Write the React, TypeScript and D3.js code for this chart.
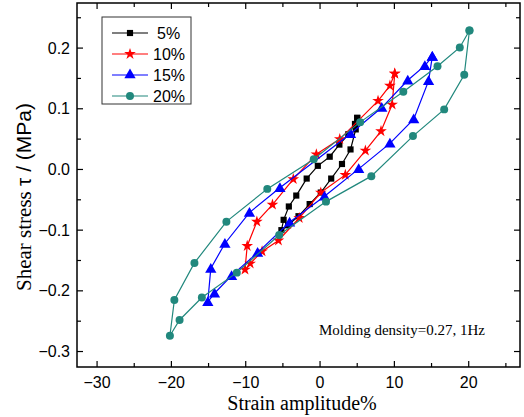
import React from "react";
import * as d3 from "d3";

// ---- data (strain %, shear stress MPa) ----
const series5X = [5.0, 4.7, 3.8, 2.6, 1.3, -0.3, -1.8, -3.2, -4.2, -4.9, -5.2, -4.3, -2.9, -1.4, 0.1, 1.5, 2.95, 4.1, 4.8, 5.0];
const series5Y = [0.085, 0.075, 0.058, 0.041, 0.021, 0.006, -0.015, -0.043, -0.061, -0.083, -0.1, -0.092, -0.077, -0.057, -0.038, -0.015, 0.009, 0.033, 0.066, 0.085];

const series10X = [10.05, 9.4, 7.8, 2.65, -0.5, -3.6, -6.4, -8.5, -9.8, -10.1, -9.4, -7.8, -5.6, -2.8, 0.1, 3.4, 6.1, 8.2, 9.7, 10.05];
const series10Y = [0.158, 0.138, 0.113, 0.05, 0.025, -0.016, -0.058, -0.086, -0.126, -0.165, -0.155, -0.135, -0.117, -0.08, -0.038, -0.009, 0.031, 0.063, 0.107, 0.158];

const series15X = [15.1, 14.1, 11.8, 8.3, 4.1, -5.4, -9.5, -12.8, -14.7, -15.1, -14.2, -11.9, -8.4, -4.1, 0.6, 5.2, 9.4, 12.6, 14.6, 15.1];
const series15Y = [0.186, 0.171, 0.147, 0.102, 0.059, -0.03, -0.071, -0.122, -0.163, -0.218, -0.204, -0.175, -0.137, -0.087, -0.044, 0.001, 0.043, 0.083, 0.146, 0.186];

const series20X = [20.1, 18.8, 15.8, 11.2, 5.4, -0.85, -7.1, -12.6, -16.9, -19.6, -20.2, -18.9, -15.9, -11.2, -5.5, 0.8, 6.9, 12.5, 16.7, 19.4, 20.1];
const series20Y = [0.229, 0.201, 0.17, 0.128, 0.078, 0.017, -0.032, -0.086, -0.154, -0.215, -0.274, -0.248, -0.211, -0.17, -0.108, -0.053, -0.011, 0.055, 0.099, 0.156, 0.229];

const legendLabels = ["5%", "10%", "15%", "20%"];
const xTickValues = [-30, -20, -10, 0, 10, 20];
const xMinorValues = [-30, -25, -20, -15, -10, -5, 0, 5, 10, 15, 20, 25];
const yTickValues = [-0.3, -0.2, -0.1, 0.0, 0.1, 0.2];
const yMinorValues = [-0.3, -0.25, -0.2, -0.15, -0.1, -0.05, 0, 0.05, 0.1, 0.15, 0.2, 0.25];

const colors = ["#000000", "#ff0000", "#0000ff", "#21887d"];
const symbols = [d3.symbolSquare, d3.symbolStar, d3.symbolTriangle, d3.symbolCircle];
const symbolSizes = [38, 42, 55, 50];

const W = 524;
const H = 417;
const L = 77, R = 520, T = 3, B = 367;

export default function App() {
  const x = d3.scaleLinear().domain([-32.7, 26.9]).range([L, R]);
  const y = d3.scaleLinear().domain([-0.3255, 0.2743]).range([B, T]);

  const seriesList = [
    { xs: series5X, ys: series5Y },
    { xs: series10X, ys: series10Y },
    { xs: series15X, ys: series15Y },
    { xs: series20X, ys: series20Y },
  ];

  const line = d3
    .line<[number, number]>()
    .x((d) => x(d[0]))
    .y((d) => y(d[1]));

  const sans = "'Liberation Sans', Arial, sans-serif";
  const serif = "'Liberation Serif', 'Times New Roman', serif";

  const legendX0 = 112, legendX1 = 148, legendYs = [33, 54, 75, 96];

  return (
    <svg width={W} height={H} style={{ position: "absolute", left: 0, top: 0, background: "#fff" }}>
      <rect x={0} y={0} width={W} height={H} fill="#fff" />
      {/* series */}
      {seriesList.map((s, i) => {
        const pts: [number, number][] = s.xs.map((v, j) => [v, s.ys[j]]);
        const sym = d3.symbol().type(symbols[i]).size(symbolSizes[i])();
        return (
          <g key={i}>
            <path d={line(pts) || ""} fill="none" stroke={colors[i]} strokeWidth={1.2} />
            {pts.map((p, j) => (
              <path
                key={j}
                d={sym || ""}
                transform={`translate(${x(p[0])},${y(p[1])})${i === 2 ? " translate(0,1)" : ""}`}
                fill={colors[i]}
              />
            ))}
          </g>
        );
      })}

      {/* frame */}
      <rect x={L} y={T} width={R - L} height={B - T} fill="none" stroke="#000" strokeWidth={1.5} />

      {/* x ticks */}
      {xMinorValues.map((v) => {
        const major = xTickValues.includes(v);
        const len = major ? 6 : 4;
        return (
          <g key={"x" + v}>
            <line x1={x(v)} x2={x(v)} y1={B} y2={B - len} stroke="#000" strokeWidth={1.2} />
            <line x1={x(v)} x2={x(v)} y1={T} y2={T + len} stroke="#000" strokeWidth={1.2} />
          </g>
        );
      })}
      {xTickValues.map((v) => (
        <text key={"xl" + v} x={x(v)} y={388} textAnchor="middle" fontFamily={sans} fontSize={16} fill="#000">
          {d3.format("d")(v)}
        </text>
      ))}

      {/* y ticks */}
      {yMinorValues.map((v) => {
        const major = yTickValues.some((t) => Math.abs(t - v) < 1e-9);
        const len = major ? 6 : 4;
        return (
          <g key={"y" + v}>
            <line x1={L} x2={L + len} y1={y(v)} y2={y(v)} stroke="#000" strokeWidth={1.2} />
            <line x1={R} x2={R - len} y1={y(v)} y2={y(v)} stroke="#000" strokeWidth={1.2} />
          </g>
        );
      })}
      {yTickValues.map((v) => (
        <text key={"yl" + v} x={70} y={y(v)} dy="0.35em" textAnchor="end" fontFamily={sans} fontSize={16} fill="#000">
          {d3.format(".1f")(v)}
        </text>
      ))}

      {/* axis titles */}
      <text x={302} y={410} textAnchor="middle" fontFamily={serif} fontSize={20} fill="#000">
        Strain amplitude%
      </text>
      <text transform={`translate(31,197) rotate(-90)`} textAnchor="middle" fontSize={21} fill="#000">
        <tspan fontFamily={serif}>Shear stress </tspan>
        <tspan fontFamily={sans}>τ / (MPa)</tspan>
      </text>

      {/* annotation */}
      <text x={319} y={335} fontFamily={serif} fontSize={15} fill="#000">
        Molding density=0.27, 1Hz
      </text>

      {/* legend */}
      <rect x={102} y={17} width={89} height={87} fill="#fff" stroke="#333" strokeWidth={1} />
      {legendLabels.map((lab, i) => {
        const sym = d3.symbol().type(symbols[i]).size(symbolSizes[i])();
        const ly = legendYs[i];
        return (
          <g key={"lg" + i}>
            <line x1={legendX0} x2={legendX1} y1={ly} y2={ly} stroke={colors[i]} strokeWidth={1.2} />
            <path d={sym || ""} transform={`translate(${(legendX0 + legendX1) / 2},${ly})`} fill={colors[i]} />
            <text x={i === 0 ? 157 : 153} y={ly} dy="0.35em" fontFamily={sans} fontSize={16} fill="#000">
              {lab}
            </text>
          </g>
        );
      })}
    </svg>
  );
}
